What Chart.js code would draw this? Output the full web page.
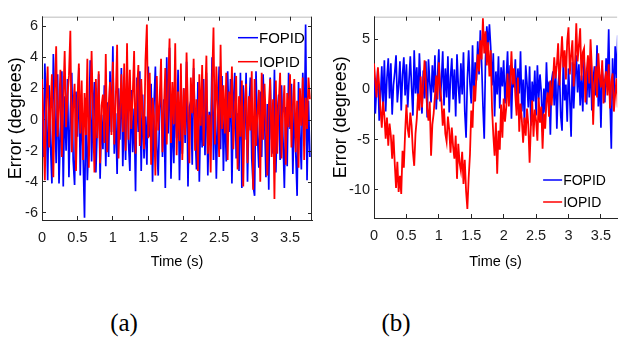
<!DOCTYPE html>
<html>
<head>
<meta charset="utf-8">
<script src="https://cdn.jsdelivr.net/npm/chart.js@4"></script>
<style>
  body { margin: 0; background: #fff; width: 624px; height: 343px; overflow: hidden; position: relative; }
  canvas { position: absolute; top: 0; }
  #chartA { left: 0; }
  #chartB { left: 326px; }
  .caption { position: absolute; top: 310px; font-family: "Liberation Serif", serif; font-size: 25px; line-height: 1; color: #000; transform: translateX(-50%); }
</style>
</head>
<body>
<canvas id="chartA" width="318" height="275"></canvas>
<canvas id="chartB" width="298" height="275"></canvas>
<div class="caption" style="left:124px">(a)</div>
<div class="caption" style="left:396px">(b)</div>
<script>
const timeStep = 0.02;
const seriesNames = ['FOPID', 'IOPID'];
const xTicks = [0, 0.5, 1, 1.5, 2, 2.5, 3, 3.5];
const yTicksA = [-6, -4, -2, 0, 2, 4, 6];
const yTicksB = [-10, -5, 0, 5];

// (a) error, degrees (one row = 0.2 s)
const fopidA = [
  1.8, -2.4, 3.6, 0.5, -3.9, 2.2, -1.6, -4.1, 4.2, 0.9,
  -2.8, 2.9, -4.1, -0.7, 3.1, -4.3, 1.5, -2.0, 2.6, -3.7,
  0.4, 3.0, -2.6, -4.2, 1.8, -1.1, 3.3, -3.6, 0.9, -2.3,
  -6.3, 1.4, -3.9, -1.2, 3.8, -2.7, 0.6, 2.4, -3.4, -0.5,
  2.9, -3.8, 0.3, -1.9, 2.2, -3.0, 1.1, -2.4, 3.1, -0.8,
  4.7, -2.2, 0.4, -3.5, 2.0, -1.3, 3.3, -3.0, 0.8, -2.6,
  3.5, -1.4, -3.3, 1.9, -2.1, 0.7, -4.6, 2.7, -0.8, 3.1,
  -3.3, 1.6, -2.5, 0.2, -2.9, 3.4, -1.1, 2.3, -4.0, 0.9,
  3.4, -1.7, -3.6, 0.6, 2.5, -2.4, 1.3, -4.4, 4.0, -0.9,
  4.6, -3.8, 0.5, -2.8, 1.9, -1.2, 3.2, -3.9, 0.4, -2.2,
  2.0, -1.5, 3.7, -4.3, 0.8, 1.2, -2.9, 3.3, -0.6, -3.2,
  2.4, -4.0, 0.7, -1.8, 2.6, -2.3, 3.0, -3.6, 0.5, -1.4,
  4.0, -2.6, 1.5, -3.8, 0.2, 3.4, -1.9, 2.8, -3.3, 0.9,
  -2.7, 3.1, -0.8, 2.6, -4.1, 1.0, 3.0, -2.5, 0.4, -3.3,
  3.0, -4.4, 2.2, -1.3, 3.0, -4.0, 0.6, 2.7, -2.5, -4.3,
  -4.9, 3.1, -1.0, -3.1, 1.8, -2.4, 2.9, 0.3, -3.7, 1.0,
  -4.5, 2.7, -1.2, -2.2, 3.2, -3.4, 0.4, 1.6, -2.6, 2.2,
  -1.1, -4.4, 0.8, -3.0, 3.0, -0.6, 2.3, -3.5, 1.1, -2.0,
  -4.9, 2.4, -0.9, -3.2, 3.0, -1.7, 6.1, -3.9, 1.2, -2.4
];
const iopidA = [
  2.6, -0.4, -3.9, 1.2, 3.4, -1.8, 0.7, 2.9, -3.7, 1.6,
  4.7, -1.1, 0.6, 3.2, -2.4, 1.3, 4.4, -0.5, 1.5, 2.8,
  5.7, -2.1, 0.8, 2.3, -3.3, 1.1, 3.6, -0.9, 2.5, -2.6,
  1.7, -1.0, 3.9, -3.1, 0.5, 4.4, 0.2, -3.4, 2.6, -1.2,
  3.1, -2.8, 0.9, 1.6, -1.5, 4.2, -2.1, 0.8, 2.4, -1.0,
  3.7, -1.6, 1.2, 4.8, -2.5, 0.6, 2.9, -0.8, 3.6, -2.0,
  4.9, -1.3, 3.2, -0.6, 1.5, 4.4, -2.2, 1.9, 3.5, -1.7,
  2.6, 0.3, -1.9, 3.8, 6.1, -1.2, 3.0, -2.9, 1.4, 0.2,
  -3.6, 2.8, -0.7, 1.2, 3.9, -2.1, 0.6, 3.3, -1.6, 2.2,
  5.2, -1.5, 2.4, -0.3, 4.9, -2.3, 1.8, -1.4, 3.6, -2.6,
  2.0, -1.0, 4.3, 0.5, -2.8, 2.7, 0.4, 3.9, -2.0, 1.3,
  -3.3, 2.9, -0.4, 3.5, -1.7, 1.0, 4.1, -2.2, 0.3, -3.4,
  2.3, 5.9, -1.6, 3.4, 0.9, -2.4, 4.8, -0.6, 2.2, -0.9,
  3.0, -2.6, 1.8, 0.1, 3.4, -1.9, 0.6, 2.8, -3.2, 1.5,
  -1.1, 2.5, -4.3, 0.8, 2.3, -2.8, 1.5, -0.7, 3.1, -4.5,
  2.6, -1.7, 0.4, 1.9, -4.0, 3.0, -1.3, 2.3, -0.2, -3.6,
  0.8, 2.6, -2.4, 1.3, -5.1, 2.5, -2.2, 1.0, 3.0, -2.5,
  0.4, 2.2, -2.9, 1.7, -0.5, 2.9, -1.8, 0.9, 2.6, -2.1,
  1.2, -3.1, 2.0, -0.4, 2.7, -2.6, 1.4, -0.6, 2.7, 1.3
];

// (b) error, degrees (one row = 0.2 s)
const fopidB = [
  1.4, -2.4, 0.3, 2.1, -3.1, -0.8, 2.3, -1.7, 2.9, -2.2,
  1.2, 3.1, -0.9, 2.6, -2.5, 0.4, 1.7, 3.4, -1.3, 0.4,
  2.8, -2.1, 1.5, 3.2, -0.6, 2.5, -1.8, 0.9, 3.3, 0.2,
  -2.6, 3.9, -0.4, 2.2, -1.5, 3.6, 0.3, -2.4, 1.9, -0.9,
  2.8, -2.8, 3.0, 0.7, -1.3, 2.4, -0.3, 3.4, -2.0, 1.3,
  4.0, -1.2, 0.8, 3.8, -1.6, 2.1, -0.8, 3.3, -2.3, 1.2,
  3.1, -1.0, 2.0, -2.7, 3.5, 0.4, -1.4, 2.6, -0.5, 3.7,
  -2.2, -4.8, 1.1, 3.9, 0.6, -1.4, 4.4, -1.2, 2.7, 0.9,
  4.8, 1.5, 5.9, 2.7, -1.6, -4.9, 3.1, 6.3, 4.2, 6.5,
  4.2, 0.4, 3.6, -2.7, 1.8, -0.5, 3.3, -1.9, 2.2, 0.3,
  2.9, -1.4, 1.0, 3.8, -0.7, 2.4, -2.9, 1.6, 0.2, 3.0,
  -1.7, 2.1, -0.4, 3.8, -2.2, 1.0, -3.3, 2.4, 0.6, -1.8,
  2.3, -3.6, 0.8, -1.2, 1.9, -2.6, 2.4, -1.0, 1.5, -0.3,
  -4.2, 0.1, -2.3, 2.7, -1.0, 0.8, -4.5, 0.9, 1.8, -1.6,
  2.3, -3.9, 0.4, 1.8, -2.6, -4.1, 3.0, -1.1, 0.5, -3.2,
  2.1, -0.9, -4.7, 2.7, -1.9, 1.2, 3.4, -0.3, 2.5, -1.6,
  1.4, -2.2, 3.0, 0.6, -1.5, 2.6, -0.8, 3.2, -2.1, 0.9,
  2.3, -0.6, 4.4, -1.7, 1.5, -3.8, 2.0, 0.4, -1.3, 3.1,
  0.9, 6.0, -1.0, -5.9, 3.1, -1.3, 4.3, 1.1, 5.4, 2.0
];
const iopidB = [
  2.6, 0.8, -0.8, 2.2, 0.4, -1.9, -3.8, -1.2, -2.6, -4.9,
  -2.8, -5.6, -3.4, -4.6, -6.9, -4.5, -7.4, -9.8, -7.2, -10.2,
  -8.6, -10.4, -6.1, -7.8, -4.3, -1.5, -3.9, -4.8, -2.3, -3.6,
  -6.2, -7.6, -4.4, -2.9, -0.4, -2.1, 1.3, -1.8, 0.7, 2.9,
  0.6, -1.9, -3.1, -1.2, -6.6, -3.5, -2.4, -0.6, 1.4, -1.0,
  2.7, 0.2, -1.1, -3.6, -1.9, -4.4, -5.2, -2.7, -4.0, -6.3,
  -3.8, -5.7, -6.9, -4.6, -8.9, -5.4, -7.3, -8.1, -6.2, -9.4,
  -7.0, -10.1, -11.9, -8.8, -6.5, -2.1, -3.8, 0.4, -1.2, 1.5,
  3.5, 1.8, 4.9, 3.0, 7.1, 3.6, 5.8, 2.4, 4.7, 1.3,
  3.9, -1.8, -4.5, -6.6, -3.3, -8.4, -4.1, -6.0, -1.5, -4.8,
  -0.9, -3.2, -1.8, 1.6, -1.7, 0.5, 3.8, 0.5, 2.1, -0.6,
  -2.6, 1.2, -4.2, -1.4, -3.0, -5.3, -2.8, -4.6, -1.9, -3.5,
  -7.3, -3.6, -1.1, -4.7, -2.0, -3.1, -5.1, -0.8, -3.3, -1.7,
  -5.9, -2.4, -3.9, -1.2, -0.3, -2.7, 0.9, -1.6, 0.8, 3.2,
  1.1, 2.4, 4.6, 0.4, 2.8, 5.3, 2.2, 3.9, 1.0, 4.8,
  6.2, 1.5, 3.4, 4.9, 0.3, 2.6, 6.6, 2.8, 4.4, 6.1,
  0.9, 3.7, 4.1, -1.3, 1.8, 3.4, 0.6, 5.0, 2.1, -3.5,
  0.7, 2.3, -0.8, 3.6, 1.2, 0.2, 2.9, -1.4, 0.9, 1.8,
  -0.6, 2.5, -1.9, 0.8, 1.6, -2.2, -0.5, 1.1, -1.8, -0.4
];

const time = fopidA.map((_, i) => +(i * timeStep).toFixed(2));

const framePlugin = {
  id: 'frame',
  afterDatasetsDraw(chart, args, opts) {
    const { ctx, chartArea: a, scales: { x, y } } = chart;
    ctx.save();
    ctx.lineWidth = 1.5;
    ctx.strokeStyle = '#d2d2d2';
    ctx.beginPath();
    ctx.moveTo(a.left, a.top + 0.5);
    ctx.lineTo(a.right, a.top + 0.5);
    ctx.stroke();
    ctx.lineWidth = 1;
    ctx.strokeStyle = '#262626';
    ctx.beginPath();
    x.ticks.forEach(t => {
      const px = Math.round(x.getPixelForValue(t.value)) + 0.5;
      ctx.moveTo(px, a.top);
      ctx.lineTo(px, a.top + 4);
    });
    if (opts.rightBorder) {
      ctx.moveTo(a.right - 0.5, a.top);
      ctx.lineTo(a.right - 0.5, a.bottom);
      y.ticks.forEach(t => {
        const py = Math.round(y.getPixelForValue(t.value)) + 0.5;
        ctx.moveTo(a.right, py);
        ctx.lineTo(a.right - 4, py);
      });
    }
    ctx.stroke();
    ctx.restore();
  },
  afterDraw(chart, args, opts) {
    const { ctx, chartArea: a } = chart;
    const lg = opts.legend;
    const colors = ['#0000ff', '#ff0000'];
    ctx.save();
    ctx.font = lg.size + 'px "Liberation Sans", Arial, sans-serif';
    ctx.textBaseline = 'middle';
    ctx.fillStyle = '#000';
    seriesNames.forEach((name, i) => {
      const yy = (lg.fromBottom ? a.bottom - lg.y : a.top + lg.y) + i * lg.gap;
      const x0 = a.right - lg.x;
      ctx.strokeStyle = colors[i];
      ctx.lineWidth = 1.5;
      ctx.beginPath();
      ctx.moveTo(x0, yy);
      ctx.lineTo(x0 + lg.len, yy);
      ctx.stroke();
      ctx.fillText(name, x0 + lg.len + 1, yy + 1);
    });
    ctx.restore();
  }
};

function makeChart(id, fopid, iopid, cfg) {
  const ctx = document.getElementById(id).getContext('2d');
  return new Chart(ctx, {
    type: 'line',
    data: {
      datasets: [{
        label: seriesNames[0],
        data: time.map((t, i) => ({ x: t, y: fopid[i] })),
        borderColor: '#0000ff',
        borderWidth: 1.7,
        pointRadius: 0,
        order: 1
      }, {
        label: seriesNames[1],
        data: time.map((t, i) => ({ x: t, y: iopid[i] })),
        borderColor: '#ff0000',
        borderWidth: 1.8,
        pointRadius: 0,
        order: 0
      }]
    },
    options: {
      responsive: false,
      animation: false,
      devicePixelRatio: 1,
      layout: { padding: cfg.padding },
      plugins: {
        legend: { display: false },
        tooltip: { enabled: false },
        frame: { legend: cfg.legend, rightBorder: cfg.rightBorder }
      },
      scales: {
        x: {
          type: 'linear',
          min: 0,
          max: cfg.xMax,
          afterBuildTicks: s => { s.ticks = xTicks.map(v => ({ value: v })); },
          afterFit: s => { s.height = cfg.xHeight; },
          grid: { drawOnChartArea: false, tickLength: -4, color: '#262626' },
          border: { color: '#262626' },
          ticks: { padding: 13, color: '#1a1a1a', maxRotation: 0, callback: v => String(v), font: { family: 'Liberation Sans', size: 14.5 } },
          title: { display: true, text: 'Time (s)', color: '#000', padding: 4, font: { family: 'Liberation Sans', size: 14.5 } }
        },
        y: {
          min: cfg.yMin,
          max: cfg.yMax,
          afterBuildTicks: s => { s.ticks = cfg.yTicks.map(v => ({ value: v })); },
          afterFit: s => { s.width = cfg.yWidth; },
          grid: { drawOnChartArea: false, tickLength: -4, color: '#262626' },
          border: { color: '#262626' },
          ticks: { padding: 8, color: '#1a1a1a', callback: v => String(v), font: { family: 'Liberation Sans', size: 14.5 } },
          title: { display: true, text: 'Error (degrees)', color: '#000', padding: cfg.yTitlePad, font: { family: 'Liberation Sans', size: 18 } }
        }
      }
    },
    plugins: [framePlugin]
  });
}

makeChart('chartA', fopidA, iopidA, {
  padding: { top: 5, right: 6, left: 0, bottom: 0 },
  xMax: 3.81, yMin: -6.45, yMax: 6.6, yTicks: yTicksA,
  xHeight: 55, yWidth: 42, yTitlePad: 5, rightBorder: true,
  legend: { x: 74, y: 21, gap: 24, len: 20, size: 15, fromBottom: false }
});

makeChart('chartB', fopidB, iopidB, {
  padding: { top: 7, right: 0, left: 0, bottom: 0 },
  xMax: 3.75, yMin: -12.8, yMax: 7.25, yTicks: yTicksB,
  xHeight: 57, yWidth: 48, yTitlePad: 4, rightBorder: false,
  legend: { x: 74, y: 38, gap: 22, len: 19, size: 14, fromBottom: true }
});
</script>
</body>
</html>
